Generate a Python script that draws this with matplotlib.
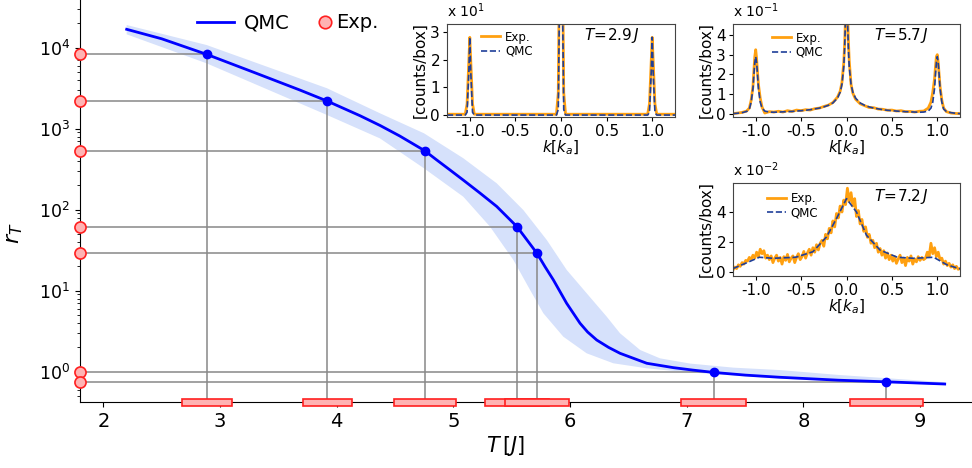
import matplotlib.pyplot as plt
import matplotlib.transforms as mtransforms
from matplotlib.lines import Line2D
from matplotlib.patches import Rectangle
import numpy as np

# ---- main panel data: r_T versus T ----
T_qmc = [2.2, 2.5, 2.885, 3.3, 3.683, 3.917, 4.2, 4.371, 4.54, 4.754, 4.857, 4.971,
         5.085, 5.228, 5.371, 5.545, 5.716, 5.785, 5.857, 5.97, 6.085, 6.15, 6.228,
         6.33, 6.428, 6.657, 6.885, 7.05, 7.23, 7.5, 7.8, 8.3, 8.71, 9.21]
logr_qmc = [4.227, 4.11, 3.918, 3.69, 3.478, 3.342, 3.16, 3.04, 2.91, 2.728, 2.614, 2.49,
            2.365, 2.205, 2.04, 1.79, 1.462, 1.296, 1.132, 0.845, 0.598, 0.49, 0.391,
            0.30, 0.227, 0.104, 0.05, 0.02, -0.009, -0.042, -0.069, -0.105, -0.125, -0.152]

# uncertainty band edges
T_band_hi = [2.2, 2.885, 3.917, 4.371, 4.748, 5.085, 5.371, 5.599, 5.8, 5.971, 6.142,
             6.314, 6.428, 6.6, 6.77, 7.03, 7.4, 7.8, 8.3, 8.71, 9.21]
logr_band_hi = [4.28, 4.033, 3.499, 3.19, 2.943, 2.635, 2.326, 1.996, 1.626, 1.256, 0.968,
                0.679, 0.474, 0.268, 0.165, 0.10, 0.05, 0.02, -0.04, -0.08, -0.13]
T_band_lo = [2.2, 2.885, 3.917, 4.371, 4.748, 5.085, 5.314, 5.514, 5.657, 5.771, 5.942,
             6.142, 6.37, 6.657, 6.885, 7.23, 7.8, 8.71, 9.21]
logr_band_lo = [4.165, 3.807, 3.169, 2.88, 2.511, 2.16, 1.79, 1.379, 1.009, 0.721, 0.432,
                0.227, 0.104, 0.042, 0.01, -0.03, -0.085, -0.14, -0.165]

# measured points
T_pts = [2.885, 3.917, 4.754, 5.545, 5.716, 7.23, 8.71]
dT_pts = [0.215, 0.21, 0.265, 0.275, 0.275, 0.277, 0.31]
r_pts = [8280, 2200, 535, 61.7, 29.0, 0.98, 0.75]

# ---- inset data ----
k1 = [-1.25, -1.05, -1.03, -1.01, -1.0, -0.99, -0.97, -0.95, -0.05, -0.03, -0.01, 0.0,
      0.01, 0.03, 0.05, 0.95, 0.97, 0.99, 1.0, 1.01, 1.03, 1.05, 1.25]
exp1 = [0.03, 0.03, 0.4, 2.0, 2.8, 2.0, 0.4, 0.03, 0.03, 0.8, 8.0, 12.0,
        8.0, 0.8, 0.03, 0.03, 0.4, 2.0, 2.8, 2.0, 0.4, 0.03, 0.03]
qmc1 = [0.0, 0.0, 0.1, 1.6, 2.8, 1.6, 0.1, 0.0, 0.0, 0.2, 6.0, 12.0,
        6.0, 0.2, 0.0, 0.0, 0.1, 1.6, 2.8, 1.6, 0.1, 0.0, 0.0]

k2 = [-1.25, -1.2, -1.15, -1.1, -1.07, -1.05, -1.03, -1.02, -1.01, -1.0, -0.99, -0.98,
      -0.97, -0.95, -0.93, -0.9, -0.85, -0.8, -0.75, -0.7, -0.65, -0.6, -0.55, -0.5,
      -0.45, -0.4, -0.35, -0.3, -0.25, -0.2, -0.15, -0.1, -0.07, -0.05, -0.03, -0.02,
      -0.01, 0.0, 0.01, 0.02, 0.03, 0.05, 0.07, 0.1, 0.15, 0.2, 0.25, 0.3, 0.35, 0.4,
      0.45, 0.5, 0.55, 0.6, 0.65, 0.7, 0.75, 0.8, 0.85, 0.9, 0.93, 0.95, 0.97, 0.98,
      0.99, 1.0, 1.01, 1.02, 1.03, 1.05, 1.07, 1.1, 1.15, 1.2, 1.25]
exp2 = [0.02, 0.05, 0.08, 0.15, 0.3, 0.7, 1.4, 2.2, 2.9, 3.25, 2.8, 2.1,
        1.5, 0.8, 0.35, 0.05, 0.12, 0.1, 0.14, 0.1, 0.17, 0.13, 0.2, 0.17,
        0.22, 0.2, 0.27, 0.3, 0.38, 0.45, 0.58, 0.85, 1.15, 1.6, 2.6, 3.6,
        5.0, 7.0, 5.5, 3.8, 2.7, 1.5, 1.05, 0.75, 0.52, 0.42, 0.33, 0.32, 0.25, 0.24,
        0.19, 0.2, 0.15, 0.17, 0.12, 0.13, 0.1, 0.14, 0.15, 0.3, 0.6, 1.1, 1.8, 2.4,
        2.9, 3.0, 2.6, 2.0, 1.4, 0.7, 0.3, 0.12, 0.05, 0.03, 0.02]
qmc2 = [0.02, 0.04, 0.07, 0.13, 0.25, 0.6, 1.3, 2.0, 2.6, 2.9, 2.6, 2.0,
        1.3, 0.6, 0.3, 0.15, 0.1, 0.09, 0.1, 0.11, 0.12, 0.13, 0.15, 0.17,
        0.19, 0.22, 0.26, 0.3, 0.36, 0.44, 0.56, 0.8, 1.1, 1.5, 2.4, 3.4,
        5.0, 7.0, 5.0, 3.4, 2.4, 1.5, 1.1, 0.8, 0.56, 0.44, 0.36, 0.3, 0.26, 0.22,
        0.19, 0.17, 0.15, 0.13, 0.12, 0.11, 0.1, 0.09, 0.1, 0.15, 0.3, 0.6, 1.3, 2.0,
        2.6, 2.9, 2.6, 2.0, 1.3, 0.6, 0.25, 0.13, 0.07, 0.04, 0.02]

k3_exp = np.arange(126) * 0.02 - 1.25
exp3 = [0.1, 0.3, 0.2, 0.45, 0.35, 0.6, 0.5, 0.75,
        0.7, 0.95, 0.8, 1.1, 0.9, 1.3, 1.0, 1.5, 1.2, 1.4, 0.9, 1.1,
        0.8, 1.05, 0.6, 0.9, 1.1, 0.7, 0.95, 0.5, 1.0, 0.75, 1.15, 0.65, 0.9, 1.05, 0.6, 0.95, 1.2, 0.8,
        1.0, 1.35, 0.9, 1.25, 1.5, 1.1, 1.6, 1.3, 1.8, 1.45, 1.9,
        2.1, 1.7, 2.5, 2.2, 2.9, 2.6, 3.4, 3.0, 3.9,
        3.6, 4.4, 4.0, 4.8, 4.5, 5.6, 4.7, 5.3, 4.4, 4.9,
        3.7, 4.1, 3.2, 3.5, 2.7, 3.0, 2.3, 2.5, 1.9,
        2.1, 1.6, 1.9, 1.3, 1.55, 1.1, 1.4, 0.9, 1.25, 0.8, 1.1,
        0.7, 1.0, 0.55, 0.85, 1.1, 0.6, 0.9, 0.4, 0.95, 0.7, 1.05, 0.5, 0.85, 0.65, 1.0, 0.75, 0.95, 0.8,
        0.9, 1.3, 1.0, 1.9, 1.2, 1.6, 1.0, 1.3, 0.8, 0.9, 0.5, 0.7,
        0.4, 0.55, 0.3, 0.45, 0.2, 0.35, 0.15, 0.2]
k3_qmc = [-1.25, -1.11, -0.96, -0.81, -0.56, -0.37, -0.22, -0.11, 0.0,
          0.11, 0.22, 0.37, 0.56, 0.74, 0.96, 1.11, 1.25]
qmc3 = [0.2, 0.56, 0.96, 0.89, 0.96, 1.33, 2.33, 3.56, 4.9,
        4.0, 2.44, 1.44, 0.96, 0.89, 0.96, 0.44, 0.18]

W, H = 972, 468
fig = plt.figure(figsize=(W / 100, H / 100), dpi=100)

x0, x1 = 1.8, 9.444
y0, y1 = 0.419, 38800
ax = fig.add_axes([80 / W, (H - 402.3) / H, (W - 80) / W, 402.3 / H])
ax.set_yscale('log')
ax.set_xlim(x0, x1)
ax.set_ylim(y0, y1)
ax.spines['top'].set_visible(False)
ax.spines['right'].set_visible(False)
ax.set_xticks(range(2, 10))
ax.tick_params(axis='x', labelsize=14)
ax.tick_params(axis='y', labelsize=12.5)

band_T = np.r_[T_band_lo, T_band_hi[::-1]]
band_r = 10 ** np.r_[logr_band_lo, logr_band_hi[::-1]]
ax.fill(band_T, band_r, color='#d6e1fb', lw=0, zorder=1)

ax.hlines(r_pts, x0, T_pts, color='#888888', lw=1.1, zorder=2)
ax.vlines(T_pts, y0, r_pts, color='#888888', lw=1.1, zorder=2)
ax.plot(T_qmc, 10 ** np.array(logr_qmc), color='#0000ff', lw=2, zorder=3)
ax.plot(T_pts, r_pts, 'o', color='#0000ff', ms=6, zorder=4)
ax.plot([x0] * len(r_pts), r_pts, 'o', mfc='#ffb3b3', mec='#ff2020', ms=8, mew=1.2,
        clip_on=False, zorder=6)

trans = mtransforms.blended_transform_factory(ax.transData, ax.transAxes)
hgt = 7 / 402.3
for t, dt in zip(T_pts, dT_pts):
    ax.add_patch(Rectangle((t - dt, -hgt / 2), 2 * dt, hgt, transform=trans,
                           fc='#ffb3b3', ec='#ff2020', lw=1.2, clip_on=False, zorder=6))

ax.set_xlabel(r'$T\,[J]$', fontsize=15)
ax.xaxis.set_label_coords((505 - 80) / (W - 80), -0.078)
ax.set_ylabel(r'$r_T$', fontsize=16)
ax.yaxis.set_label_coords(-0.062, 0.42)

leg1 = ax.legend(handles=[Line2D([], [], color='#0000ff', lw=2, label='QMC')],
                 frameon=False, fontsize=14, loc='upper left',
                 bbox_to_anchor=(0.112, 1.01), handlelength=1.9, handletextpad=0.5)
ax.add_artist(leg1)
ax.legend(handles=[Line2D([], [], marker='o', ls='none', mfc='#ffb3b3', mec='#ff2020',
                          ms=9, mew=1.2, label='Exp.')],
          frameon=False, fontsize=14, loc='upper left', bbox_to_anchor=(0.247, 1.01),
          handlelength=0.7, handletextpad=0.25)

orange = '#ffa010'
navy = '#1f3f99'


def inset(left, top, right, bottom, k_e, y_e, k_q, y_q, ylim, yticks, power, label,
          text_xy, leg_anchor):
    a = fig.add_axes([left / W, (H - bottom) / H, (right - left) / W, (bottom - top) / H])
    a.plot(k_e, y_e, color=orange, lw=2, label='Exp.')
    a.plot(k_q, y_q, color=navy, lw=1.2, ls='--', label='QMC')
    a.set_xlim(-1.25, 1.25)
    a.set_ylim(*ylim)
    a.set_yticks(yticks)
    a.set_xticks([-1.0, -0.5, 0.0, 0.5, 1.0])
    a.set_xticklabels(['-1.0', '-0.5', '0.0', '0.5', '1.0'])
    a.tick_params(labelsize=11, length=3, pad=2)
    for s in a.spines.values():
        s.set_color('#444444')
    a.set_xlabel(r'$k[k_a]$', fontsize=11, labelpad=0)
    a.set_ylabel('[counts/box]', fontsize=11, labelpad=2)
    a.text(0.0, 1.04, r'x $10^{%s}$' % power, transform=a.transAxes, fontsize=10,
           va='bottom', ha='left')
    a.text(text_xy[0], text_xy[1], label, transform=a.transAxes, fontsize=11,
           va='center', ha='left')
    a.legend(frameon=False, fontsize=8.5, loc='upper left', bbox_to_anchor=leg_anchor,
             handlelength=1.6, handletextpad=0.4, labelspacing=0.1, borderaxespad=0)
    return a


inset(447, 24, 675, 117, k1, exp1, k1, qmc1, (-0.07, 3.28), [0, 1, 2, 3], '1',
      r'$T\!=\!2.9\,J$', (0.6, 0.88), (0.13, 0.98))
inset(733, 24, 960, 117, k2, exp2, k2, qmc2, (-0.15, 4.55), [0, 1, 2, 3, 4], '-1',
      r'$T\!=\!5.7\,J$', (0.62, 0.88), (0.15, 0.97))
inset(733, 183, 960, 276, k3_exp, exp3, k3_qmc, qmc3, (-0.3, 5.95), [0, 2, 4], '-2',
      r'$T\!=\!7.2\,J$', (0.62, 0.85), (0.13, 0.95))

fig.savefig('out.png', dpi=100)
